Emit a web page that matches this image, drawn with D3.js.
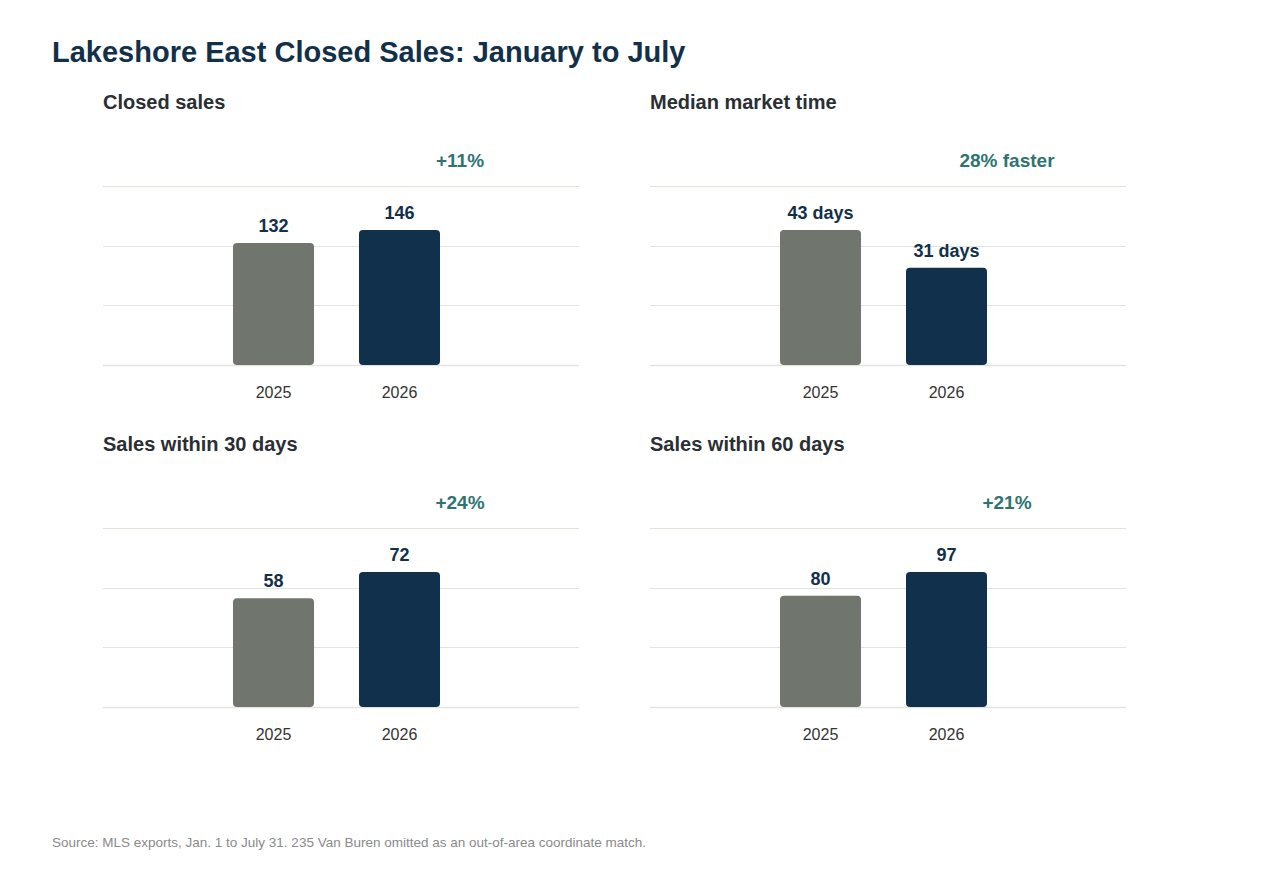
<!DOCTYPE html>
<html><head><meta charset="utf-8">
<script src="https://cdn.jsdelivr.net/npm/d3@7"></script>
<style>body{margin:0;background:#fff;font-family:"Liberation Sans",Arial,sans-serif}</style>
</head><body><svg width="1280" height="884"></svg>
<script>
var years = ["2025", "2026"];
var panelTitles = ["Closed sales", "Median market time", "Sales within 30 days", "Sales within 60 days"];
var values2025 = [132, 43, 58, 80];
var values2026 = [146, 31, 72, 97];
var valueUnits = ["", " days", "", ""];
var changeLabels = ["+11%", "28% faster", "+24%", "+21%"];

var svg = d3.select("svg");
svg.append("text").attr("x", 52).attr("y", 62).text("Lakeshore East Closed Sales: January to July")
  .attr("font-size", 29).attr("font-weight", "bold").attr("fill", "#12304a");
svg.append("text").attr("x", 52).attr("y", 847)
  .text("Source: MLS exports, Jan. 1 to July 31. 235 Van Buren omitted as an out-of-area coordinate match.")
  .attr("font-size", 13.5).attr("fill", "#8a8a8a");

var pw = 476, ph = 179;
var origins = [[103, 186], [650, 186], [103, 528], [650, 528]];
var colors = {"2025": "#70756e", "2026": "#11304b"};

panelTitles.forEach(function(t, i) {
  var g = svg.append("g").attr("transform", "translate(" + origins[i] + ")");
  var vals = [values2025[i], values2026[i]];
  var y = d3.scaleLinear().domain([0, d3.max(vals) * 1.326]).range([ph, 0]);
  var x = d3.scaleBand().domain(years).range([85, 382]).padding(0.357);
  g.append("text").attr("x", 0).attr("y", -77).text(t)
    .attr("font-size", 20).attr("font-weight", "bold").attr("fill", "#2a2f33");
  g.append("text").attr("x", 357).attr("y", -19).attr("text-anchor", "middle").text(changeLabels[i])
    .attr("font-size", 19).attr("font-weight", "bold").attr("fill", "#2e7571");
  [0, 1, 2, 3].forEach(function(k) {
    g.append("line").attr("x1", 0).attr("x2", pw)
      .attr("y1", Math.round(ph * k / 3) + 0.5).attr("y2", Math.round(ph * k / 3) + 0.5)
      .attr("stroke", k == 0 ? "#e4e2d6" : "#e3e3e0").attr("stroke-width", k == 3 ? 1.5 : 1.2);
  });
  g.selectAll("rect").data(years).enter().append("rect")
    .attr("x", function(d) { return x(d); })
    .attr("y", function(d, j) { return y(vals[j]); })
    .attr("width", x.bandwidth())
    .attr("height", function(d, j) { return ph - y(vals[j]); })
    .attr("rx", 4).attr("fill", function(d) { return colors[d]; });
  g.selectAll(".val").data(years).enter().append("text")
    .attr("x", function(d) { return x(d) + x.bandwidth() / 2; })
    .attr("y", function(d, j) { return y(vals[j]) - 11; })
    .attr("text-anchor", "middle").text(function(d, j) { return vals[j] + valueUnits[i]; })
    .attr("font-size", 18).attr("font-weight", "bold").attr("fill", "#12304a");
  g.selectAll(".yr").data(years).enter().append("text")
    .attr("x", function(d) { return x(d) + x.bandwidth() / 2; })
    .attr("y", ph + 33).attr("text-anchor", "middle").text(function(d) { return d; })
    .attr("font-size", 16).attr("fill", "#333");
});
</script></body></html>
